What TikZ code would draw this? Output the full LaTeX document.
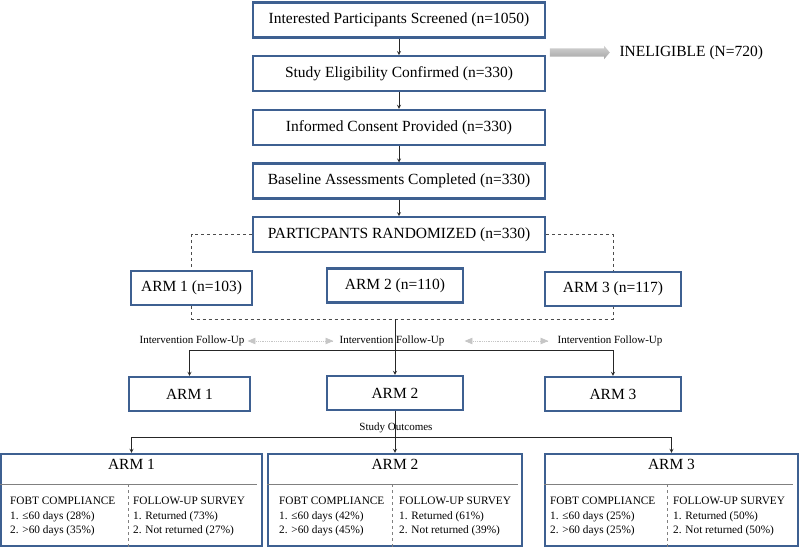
\documentclass[tikz,border=0pt]{standalone}
\usepackage{fontspec}
\setmainfont{Liberation Serif}
\usepackage{tikz}
\usetikzlibrary{shapes,arrows,positioning}
\definecolor{boxblue}{RGB}{62,96,145}
\tikzstyle{stage} = [rectangle, draw=boxblue, line width=2.2pt, minimum width=292pt, minimum height=35pt, text centered, font=\fontsize{15.5}{18}\selectfont]
\tikzstyle{armbox} = [rectangle, draw=boxblue, line width=2.2pt, minimum width=136pt, minimum height=34pt, text centered, font=\fontsize{15.5}{18}\selectfont]
\tikzstyle{outbox} = [rectangle, draw=boxblue, line width=2.2pt, minimum width=254pt, minimum height=92pt]
\tikzstyle{small} = [inner sep=0pt, font=\fontsize{11}{13}\selectfont]
\tikzstyle{cell} = [inner sep=0pt, anchor=north west, align=left, font=\fontsize{11.3}{14.5}\selectfont]
\tikzstyle{flow} = [->, >=stealth, line width=0.8pt, black!85]
\tikzstyle{split} = [dashed, line width=0.8pt, black!70]
\tikzstyle{rule} = [line width=0.8pt, gray]
\tikzstyle{dots} = [<->, >=triangle 45, densely dotted, line width=0.8pt, gray!45]

\begin{document}
\begin{tikzpicture}[x=1pt, y=-1pt, node distance=53.7pt]
\useasboundingbox (0,0) rectangle (800,548);
% screening chain
\node (screen) [stage] at (399,20) {Interested Participants Screened (n=1050)};
\node (elig) [stage, below of=screen] {Study Eligibility Confirmed (n=330)};
\node (consent) [stage, below of=elig] {Informed Consent Provided (n=330)};
\node (base) [stage, below of=consent] {Baseline Assessments Completed (n=330)};
\node (rand) [stage, below of=base] {PARTICPANTS RANDOMIZED (n=330)};
\draw [flow] (screen) -- (elig);
\draw [flow] (elig) -- (consent);
\draw [flow] (consent) -- (base);
\draw [flow] (base) -- (rand);

% ineligible
\node (inel) [single arrow, draw=none, top color=gray!35, bottom color=gray!70, inner xsep=0pt, inner ysep=4pt, minimum height=60pt, single arrow head extend=2.5pt, single arrow tip angle=100] at (578,52.5) {};
\node (ineltext) [right=6pt of inel, font=\fontsize{15.5}{18}\selectfont] {INELIGIBLE (N=720)};

% randomized arms
\node (arm1) [armbox, minimum width=121pt] at (191.5,288) {ARM 1 (n=103)};
\node (arm2) [armbox] at (395,285.5) {ARM 2 (n=110)};
\node (arm3) [armbox] at (613,289) {ARM 3 (n=117)};
\coordinate (join) at (395,319);
\draw [split] (rand.west) -| (arm1.north);
\draw [split] (rand.east) -| (arm3.north);
\draw [split] (arm1.south) -- (arm1.south |- join) -- (arm3.south |- join) -- (arm3.south);

% follow-up
\node (iv1) [small] at (192,341) {Intervention Follow-Up};
\node (iv2) [small] at (392,341) {Intervention Follow-Up};
\node (iv3) [small] at (610,341) {Intervention Follow-Up};
\draw [dots] ([xshift=3pt]iv1.east) -- ([xshift=-6pt]iv2.west);
\draw [dots] ([xshift=20pt]iv2.east) -- ([xshift=-9pt]iv3.west);
\node (fu1) [armbox, minimum width=121pt] at (189.5,394) {ARM 1};
\node (fu2) [armbox] at (395,393) {ARM 2};
\node (fu3) [armbox] at (613,394) {ARM 3};
\coordinate (fuline) at (395,350);
\draw [flow] (join) -- (fu2);
\draw [flow] (fuline) -| (fu1);
\draw [flow] (fuline) -| (fu3);

% outcomes
\node (study) [small] at (396,428) {Study Outcomes};
\node (out1) [outbox, minimum width=261pt] at (131.5,500) {};
\node (out2) [outbox] at (395,500) {};
\node (out3) [outbox, minimum width=253pt] at (671.5,500) {};
\coordinate (outline) at (395,437);
\draw [flow] (fu2) -- (out2);
\draw [flow] (outline) -| (out1);
\draw [flow] (outline) -| (out3);

\node (title1) [font=\fontsize{15.5}{18}\selectfont] at (131.5,464) {ARM 1};
\node (title2) [font=\fontsize{15.5}{18}\selectfont] at (395,464) {ARM 2};
\node (title3) [font=\fontsize{15.5}{18}\selectfont] at (671.5,464) {ARM 3};
\draw [rule] (out1.west |- 0,484) -- (257,484);
\draw [rule] (out2.west |- 0,484) -- (518,484);
\draw [rule] (out3.west |- 0,484) -- (793,484);
\draw [split, gray] (128,484) -- (128,484 |- out1.south);
\draw [split, gray] (392,484) -- (392,484 |- out2.south);
\draw [split, gray] (667,484) -- (667,484 |- out3.south);

\node (fobt1) [cell] at (10,497) {FOBT COMPLIANCE\\1. ≤60 days (28\%)\\2. >60 days (35\%)};
\node (surv1) [cell] at (133,497) {FOLLOW-UP SURVEY\\1. Returned (73\%)\\2. Not returned (27\%)};
\node (fobt2) [cell] at (279,497) {FOBT COMPLIANCE\\1. ≤60 days (42\%)\\2. >60 days (45\%)};
\node (surv2) [cell] at (399,497) {FOLLOW-UP SURVEY\\1. Returned (61\%)\\2. Not returned (39\%)};
\node (fobt3) [cell] at (550,497) {FOBT COMPLIANCE\\1. ≤60 days (25\%)\\2. >60 days (25\%)};
\node (surv3) [cell] at (673,497) {FOLLOW-UP SURVEY\\1. Returned (50\%)\\2. Not returned (50\%)};
\end{tikzpicture}
\end{document}
